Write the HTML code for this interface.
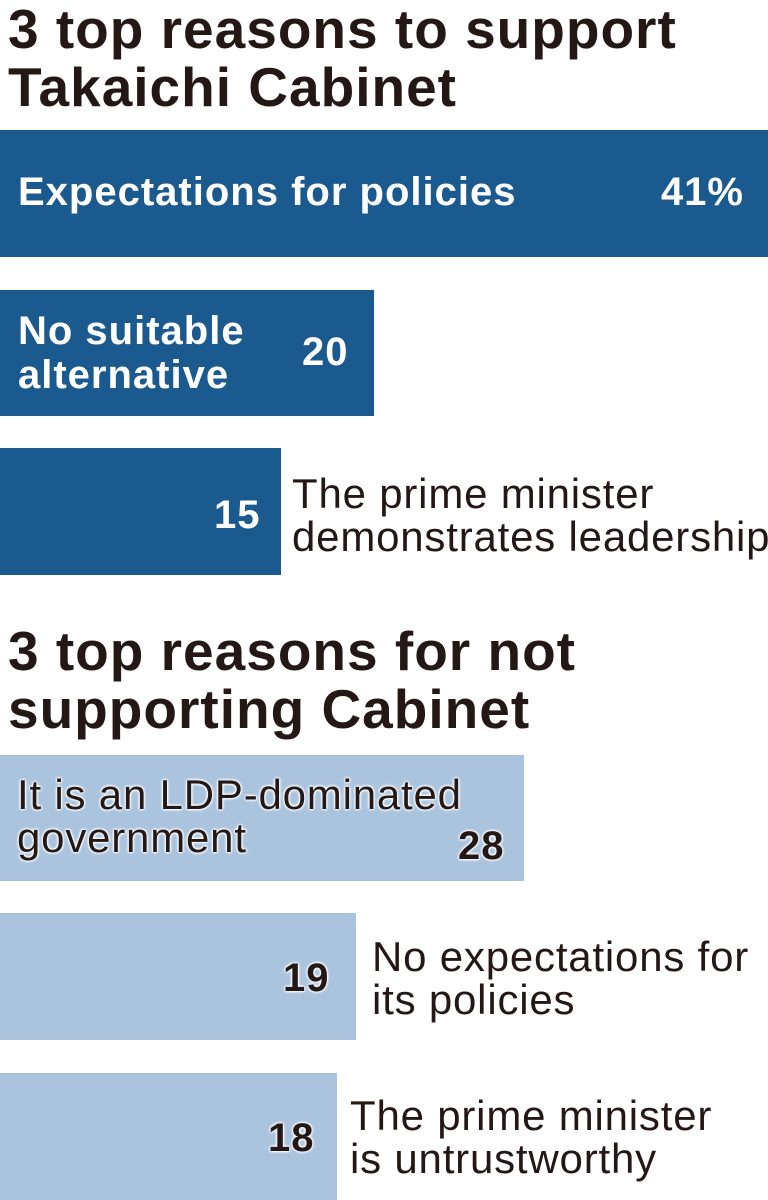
<!DOCTYPE html>
<html><head><style>
body{margin:0;width:768px;height:1200px;background:#fff;position:relative;overflow:hidden;font-family:"Liberation Sans",Arial,sans-serif;color:#231815}
div{white-space:nowrap}
.t{position:absolute;left:8px;font-weight:bold;font-size:55px;line-height:58px;letter-spacing:1px}
.b{position:absolute;left:0}
.d{background:#1a5a8f}
.l{background:#abc4de}
.w{position:absolute;color:#fff;font-weight:bold;font-size:40px;line-height:44px;letter-spacing:1px}
.k{position:absolute;color:#231815;font-size:42px;line-height:43px;letter-spacing:0.8px}
.o{text-shadow:0 0 3px #fff,0 0 3px #fff,0 0 2px #fff,0 0 2px #fff}
.n{position:absolute;font-weight:bold;font-size:40px;line-height:44px;color:#231815;letter-spacing:1px}
</style></head><body>
<div class="t" style="top:0px">3 top reasons to support<br>Takaichi Cabinet</div>
<div class="b d" style="top:130px;width:768px;height:127px"></div>
<div class="w" style="left:18px;top:170px">Expectations for policies</div>
<div class="w" style="right:24px;top:170px">41%</div>
<div class="b d" style="top:290px;width:374px;height:126px"></div>
<div class="w" style="left:18px;top:309px">No suitable<br>alternative</div>
<div class="w" style="left:302px;top:330px">20</div>
<div class="b d" style="top:448px;width:281px;height:127px"></div>
<div class="w" style="left:214px;top:493px">15</div>
<div class="k" style="left:292px;top:472px">The prime minister<br>demonstrates leadership</div>
<div class="t" style="top:622px">3 top reasons for not<br>supporting Cabinet</div>
<div class="b l" style="top:755px;width:524px;height:126px"></div>
<div class="k o" style="left:17px;top:773px">It is an LDP-dominated<br>government</div>
<div class="n o" style="left:458px;top:824px">28</div>
<div class="b l" style="top:913px;width:356px;height:127px"></div>
<div class="n o" style="left:283px;top:956px">19</div>
<div class="k" style="left:372px;top:935px">No expectations for<br>its policies</div>
<div class="b l" style="top:1073px;width:337px;height:127px"></div>
<div class="n o" style="left:268px;top:1116px">18</div>
<div class="k" style="left:350px;top:1094px">The prime minister<br>is untrustworthy</div>
</body></html>
